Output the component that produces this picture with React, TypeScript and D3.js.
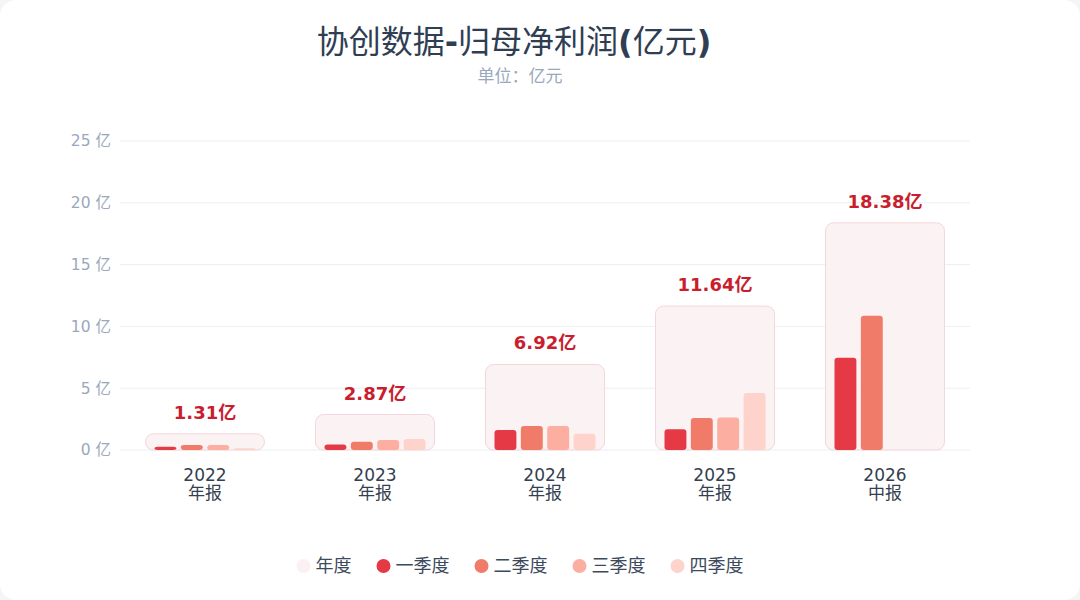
import * as d3 from 'd3';

const years = ['2022', '2023', '2024', '2025', '2026'];
const periods = ['年报', '年报', '年报', '年报', '中报'];
const annual = [1.31, 2.87, 6.92, 11.64, 18.38];
const q1 = [0.27, 0.45, 1.62, 1.67, 7.47];
const q2 = [0.40, 0.66, 1.94, 2.59, 10.87];
const q3 = [0.41, 0.80, 1.94, 2.62, 0];
const q4 = [0.14, 0.88, 1.32, 4.61, 0];
const yTicks = [0, 5, 10, 15, 20, 25];
const seriesNames = ['年度', '一季度', '二季度', '三季度', '四季度'];

const quarterColors = ['#e63946', '#f07b68', '#fcaea0', '#fdd3cb'];
const annualColor = '#fbf1f2';
const font = '"DejaVu Sans", "Noto Sans CJK SC", sans-serif';

export default function App() {
  const width = 1080;
  const height = 600;
  const margin = { top: 141, right: 110, bottom: 150, left: 120 };
  const plotW = width - margin.left - margin.right;
  const plotH = height - margin.top - margin.bottom;

  const x = d3.scaleBand<string>().domain(years).range([0, plotW]).paddingInner(0.3).paddingOuter(0.15);
  const y = d3.scaleLinear().domain([0, 25]).range([plotH, 0]);
  const quarters = [q1, q2, q3, q4];
  const xq = d3.scaleBand<number>().domain([0, 1, 2, 3]).range([9, x.bandwidth() - 9]).paddingInner(0.17);

  // legend layout: dot, 12px, text (18px per glyph), 32px gap
  const legendFont = 18;
  const legendWidths = seriesNames.map(s => 12 + s.length * legendFont + 32);
  const legendTotal = d3.sum(legendWidths) - 32 + 7;
  let lx = 520 - legendTotal / 2 + 7;
  const legendX = legendWidths.map(w => { const v = lx; lx += w; return v; });

  return (
    <div style={{ position: 'absolute', left: 0, top: 0, width, height, background: '#f4f5f7' }}>
      <svg width={width} height={height} style={{ display: 'block', fontFamily: font }}>
        <rect x={0} y={0} width={width} height={height} rx={16} fill="#ffffff" />
        <text x={514} y={53} textAnchor="middle" fontSize={32} fill="#2f3e52">
          协创数据<tspan fontWeight="bold">-</tspan>归母净利润<tspan fontWeight="bold">(</tspan>亿元<tspan fontWeight="bold">)</tspan>
        </text>
        <text x={520} y={82} textAnchor="middle" fontSize={17} fill="#9aa8bd">
          单位：亿元
        </text>
        <g transform={`translate(${margin.left},${margin.top})`}>
          {yTicks.map(t => (
            <g key={t}>
              <line x1={0} x2={plotW} y1={y(t)} y2={y(t)} stroke="#eceef3" strokeWidth={1} />
              <text x={-9} y={y(t)} dy="0.35em" textAnchor="end" fontSize={15.5} fill="#9aa8bd">
                {t} 亿
              </text>
            </g>
          ))}
          {years.map((yr, i) => {
            const bx = x(yr)!;
            return (
              <g key={yr} transform={`translate(${bx},0)`}>
                <rect
                  x={0}
                  y={y(annual[i])}
                  width={x.bandwidth()}
                  height={y(0) - y(annual[i])}
                  rx={8}
                  fill={annualColor}
                  stroke="#f5d6da"
                  strokeWidth={1}
                  fillOpacity={0.9}
                />
                {quarters.map((q, k) =>
                  q[i] > 0 ? (
                    <rect
                      key={k}
                      x={xq(k)}
                      y={y(q[i])}
                      width={xq.bandwidth()}
                      height={y(0) - y(q[i])}
                      rx={3}
                      fill={quarterColors[k]}
                    />
                  ) : null
                )}
                <text
                  x={x.bandwidth() / 2}
                  y={y(annual[i]) - 15}
                  textAnchor="middle"
                  fontSize={18}
                  fontWeight="bold"
                  fill="#c81e2e"
                >
                  {annual[i].toFixed(2)}亿
                </text>
                <text x={x.bandwidth() / 2} y={plotH + 31} textAnchor="middle" fontSize={17} fill="#34404f">
                  {yr}
                </text>
                <text x={x.bandwidth() / 2} y={plotH + 49} textAnchor="middle" fontSize={17} fill="#34404f">
                  {periods[i]}
                </text>
              </g>
            );
          })}
        </g>
        <g transform="translate(0,566)">
          {seriesNames.map((s, i) => (
            <g key={s} transform={`translate(${legendX[i]},0)`}>
              <circle cx={0} cy={0} r={7} fill={i === 0 ? annualColor : quarterColors[i - 1]} />
              <text x={12} y={0} dy="0.35em" fontSize={legendFont} fill="#3d4a5c">
                {s}
              </text>
            </g>
          ))}
        </g>
      </svg>
    </div>
  );
}
